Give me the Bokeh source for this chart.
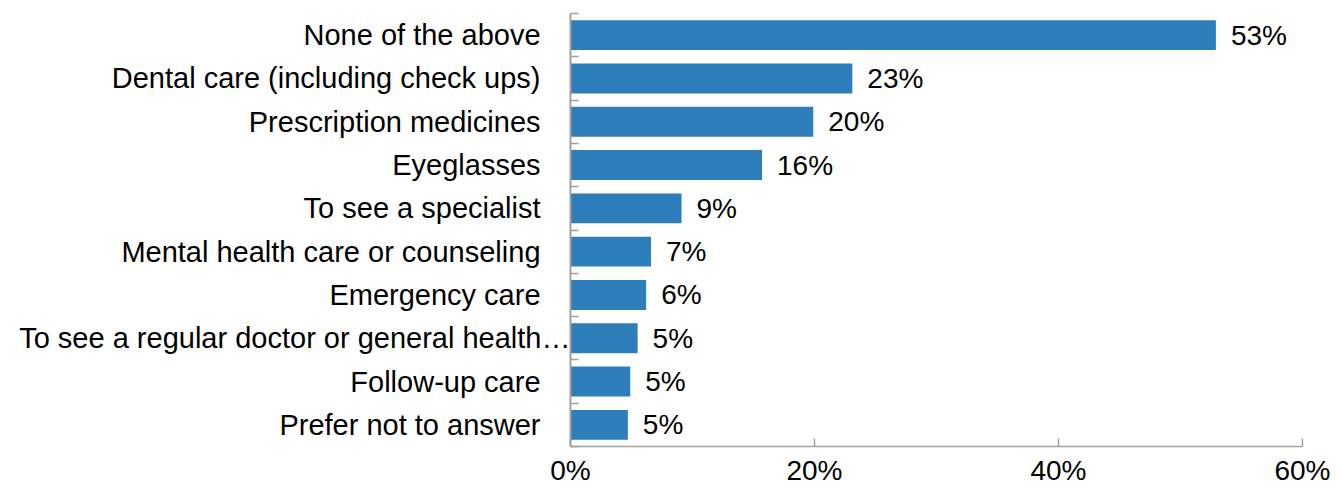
from bokeh.plotting import figure
from bokeh.models import ColumnDataSource, LabelSet, Range1d, FixedTicker
from bokeh.core.properties import value
from bokeh.embed import file_html
from bokeh.resources import INLINE

# ---- data ----
categories = [
    "None of the above",
    "Dental care (including check ups)",
    "Prescription medicines",
    "Eyeglasses",
    "To see a specialist",
    "Mental health care or counseling",
    "Emergency care",
    "To see a regular doctor or general health…",
    "Follow-up care",
    "Prefer not to answer",
]
values = [52.9, 23.1, 19.9, 15.7, 9.1, 6.6, 6.2, 5.5, 4.9, 4.7]
value_labels = ["53%", "23%", "20%", "16%", "9%", "7%", "6%", "5%", "5%", "5%"]
x_ticks = [0, 20, 40, 60]
x_tick_labels = ["0%", "20%", "40%", "60%"]

FONT = "Liberation Sans"
BAR = "#2e7ebb"
AXIS = "#a0a0a0"

n = len(categories)
ypos = [n - i - 0.5 for i in range(n)]

src = ColumnDataSource(dict(cat=categories, val=values, lab=value_labels, y=ypos))

p = figure(width=1342, height=491, output_backend="svg", toolbar_location=None,
           x_range=Range1d(0, 60), y_range=Range1d(0, n),
           min_border_left=570, min_border_right=40, min_border_top=13,
           min_border_bottom=45)
p.outline_line_color = None
p.xgrid.grid_line_color = None
p.ygrid.grid_line_color = None
p.background_fill_color = "white"
p.border_fill_color = "white"

p.hbar(y="y", right="val", left=0, height=0.69, source=src,
       fill_color=BAR, line_color=None)

# value labels
p.add_layout(LabelSet(x="val", y="y", text="lab", source=src, x_offset=15,
                      text_align="left", text_baseline="middle",
                      text_font=value(FONT), text_font_size="28px",
                      text_color="#000000"))

# x axis
xa = p.xaxis[0]
xa.ticker = FixedTicker(ticks=x_ticks)
xa.major_label_overrides = dict(zip(x_ticks, x_tick_labels))
xa.major_label_text_font = FONT
xa.major_label_text_font_size = "28px"
xa.major_label_text_color = "#000000"
xa.major_label_standoff = 8
xa.major_tick_in = 8
xa.major_tick_out = 0
xa.minor_tick_line_color = None
xa.axis_line_color = AXIS
xa.axis_line_width = 1.5
xa.major_tick_line_color = AXIS
xa.major_tick_line_width = 1.5

# y axis: labels at band centres, ticks (minor) at band boundaries.
# The truncated label sits against the axis; the others are padded with
# no-break/thin spaces so they end further from the axis, as in the original.
PAD = "\u00a0\u00a0\u00a0\u2009"
ya = p.yaxis[0]
ya.ticker = FixedTicker(ticks=ypos, minor_ticks=list(range(n + 1)))
ya.major_label_overrides = {y: (c if c.endswith("…") else c + PAD)
                            for y, c in zip(ypos, categories)}
ya.major_label_text_font = FONT
ya.major_label_text_font_size = "29px"
ya.major_label_text_color = "#000000"
ya.major_label_standoff = 0
ya.major_tick_line_color = None
ya.major_tick_in = 0
ya.major_tick_out = 0
ya.minor_tick_in = 8
ya.minor_tick_out = 0
ya.minor_tick_line_color = AXIS
ya.minor_tick_line_width = 1.5
ya.axis_line_color = AXIS
ya.axis_line_width = 2

open("out.html", "w").write(file_html(p, INLINE))
